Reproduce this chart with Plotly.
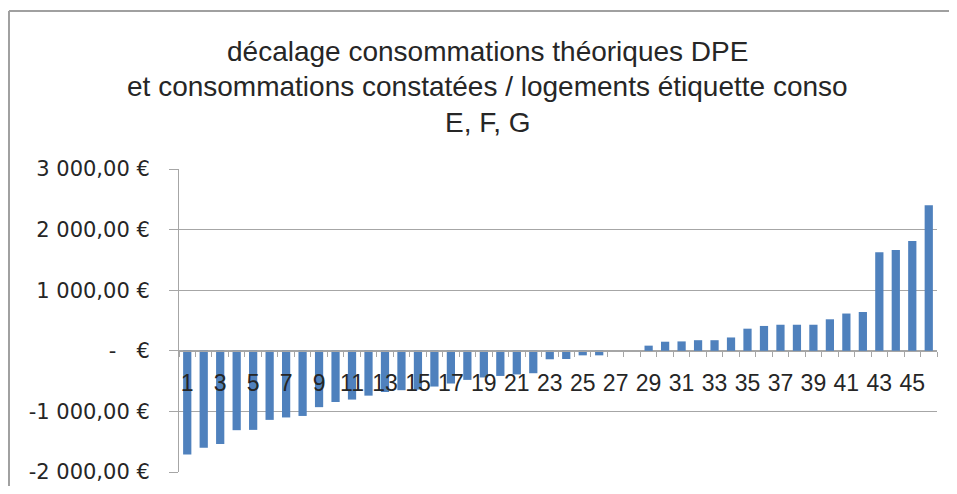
import plotly.graph_objects as go

categories = list(range(1, 47))
values = [-1710, -1600, -1540, -1310, -1305, -1140, -1100, -1075, -930, -845,
          -805, -740, -680, -650, -640, -590, -540, -480, -440, -415,
          -390, -370, -140, -135, -75, -75, 0, 0, 85, 150,
          155, 175, 175, 220, 365, 410, 430, 430, 430, 520,
          615, 640, 1625, 1665, 1810, 2400]
ytick_vals = [-2000, -1000, 0, 1000, 2000, 3000]
ytick_text = ["-2\u00a0000,00\u00a0€", "-1\u00a0000,00\u00a0€", "-\u00a0\u00a0\u00a0€",
              "1\u00a0000,00\u00a0€", "2\u00a0000,00\u00a0€", "3\u00a0000,00\u00a0€"]
xtick_vals = [c for c in categories if c % 2 == 1]
title_lines = ["décalage consommations théoriques DPE",
               "et consommations constatées / logements étiquette conso",
               "E, F, G"]

GRID = "#A6A6A6"
TXT = "#262626"

fig = go.Figure()
fig.add_trace(go.Bar(x=categories, y=values, width=0.5,
                     marker=dict(color="#4F81BD", line=dict(width=0))))

fig.update_layout(
    width=949, height=478,
    margin=dict(l=171, r=20, t=161, b=14, autoexpand=False),
    paper_bgcolor="white", plot_bgcolor="white",
    showlegend=False,
    xaxis=dict(type="linear", range=[0.5, 46.5], anchor="free", position=0.4,
               showline=True, linecolor=GRID, linewidth=1, showgrid=False, zeroline=False,
               tickmode="array", tickvals=xtick_vals, ticktext=[str(v) for v in xtick_vals],
               ticks="", ticklabelstandoff=12,
               tickfont=dict(family="Liberation Sans", size=23, color=TXT),
               minor=dict(tickmode="array", tickvals=[c - 0.5 for c in categories] + [46.5],
                          ticks="outside", ticklen=5, tickcolor=GRID, tickwidth=1, showgrid=False)),
    yaxis=dict(range=[-2000, 3000], domain=[0, 1], tickmode="array",
               tickvals=ytick_vals, ticktext=ytick_text,
               showline=True, linecolor=GRID, linewidth=1,
               showgrid=True, gridcolor=GRID, gridwidth=1, zeroline=False,
               ticks="outside", ticklen=9, tickcolor=GRID, ticklabelstandoff=15,
               tickfont=dict(family="DejaVu Sans", size=21, color=TXT)),
)

shifts = [118, 83, 47]
for line, s in zip(title_lines, shifts):
    fig.add_annotation(text=line, xref="paper", yref="paper", x=0.407, y=1,
                       xanchor="center", yanchor="middle", yshift=s, showarrow=False,
                       font=dict(family="Liberation Sans", size=28, color=TXT))

# chart-area border (left and top edges visible in the crop)
fig.add_shape(type="line", xref="paper", yref="paper", x0=-0.2243, x1=-0.2243, y0=-0.3, y1=1.5215,
              line=dict(color="#A0A0A0", width=2), layer="above")
fig.add_shape(type="line", xref="paper", yref="paper", x0=-0.2243, x1=1.2, y0=1.5215, y1=1.5215,
              line=dict(color="#A0A0A0", width=2), layer="above")

fig.write_html("out.html",
               post_script="document.documentElement.style.overflow='hidden';"
                           "document.body.style.overflow='hidden';")
